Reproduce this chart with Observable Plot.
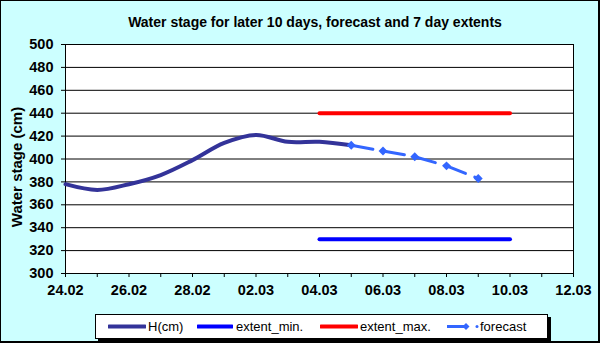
<!DOCTYPE html>
<html>
<head>
<meta charset="utf-8">
<script src="https://cdn.jsdelivr.net/npm/d3@7"></script>
<script src="https://cdn.jsdelivr.net/npm/@observablehq/plot@0.6"></script>
<style>
  html, body { margin: 0; padding: 0; }
  body { font-family: "Liberation Sans", Arial, sans-serif; }
  #chart { position: relative; width: 600px; height: 343px; background: #ccffff; overflow: hidden; }
  #chart svg { position: absolute; left: 0; top: 0; background: transparent; }
  #border { position: absolute; left: 0; top: 0; width: 600px; height: 343px; box-sizing: border-box;
            border: 1px solid #000; border-bottom-width: 2px; border-right-width: 2px; pointer-events: none; }
  #title { position: absolute; left: 30px; width: 570px; top: 13px; text-align: center;
           font-weight: bold; font-size: 14px; line-height: 18px; color: #000; }
  #legend { position: absolute; left: 95px; top: 314px; width: 451px; height: 23px; background: #fff;
            border: 1px solid #000; box-shadow: 3px 3px 0 #000; font-size: 13px; color: #000; }
  .item { position: absolute; top: 0; height: 23px; }
  .item svg { position: absolute; top: 0; left: 0; }
  .item span { position: absolute; top: 4px; white-space: nowrap; line-height: 15px; }
</style>
</head>
<body>
<div id="chart">
  <div id="title">Water stage for later 10 days, forecast and 7 day extents</div>
  <div id="legend"></div>
  <div id="border"></div>
</div>
<script>
// ---- data ----
const hDays = ["2023-02-24","2023-02-25","2023-02-26","2023-02-27","2023-02-28","2023-03-01","2023-03-02","2023-03-03","2023-03-04","2023-03-05"];
const hValues = [378, 373, 378, 386, 399, 414, 421, 415, 415, 412];
const forecastDays = ["2023-03-05","2023-03-06","2023-03-07","2023-03-08","2023-03-09"];
const forecastValues = [412, 407, 402, 394, 383];
const extentDays = ["2023-03-04","2023-03-10"];
const extentMinValues = [330, 330];
const extentMaxValues = [440, 440];
const xTickDates = ["2023-02-24","2023-02-26","2023-02-28","2023-03-02","2023-03-04","2023-03-06","2023-03-08","2023-03-10","2023-03-12"];
const yTicks = [300, 320, 340, 360, 380, 400, 420, 440, 460, 480, 500];
const xDomain = ["2023-02-24", "2023-03-12"];
const seriesNames = ["H(cm)", "extent_min.", "extent_max.", "forecast"];
const seriesColors = ["#333399", "#0000ff", "#ff0000", "#3366ff"];

const parse = d3.utcParse("%Y-%m-%d");
const fmt = d3.utcFormat("%d.%m");
const toRows = (days, vals) => days.map((d, i) => ({date: parse(d), value: vals[i]}));
const hData = toRows(hDays, hValues);
const fcData = toRows(forecastDays, forecastValues);
const minData = toRows(extentDays, extentMinValues);
const maxData = toRows(extentDays, extentMaxValues);
const domain = xDomain.map(parse);
const dailyTicks = d3.utcDay.range(domain[0], d3.utcDay.offset(domain[1], 1));
const labelTicks = xTickDates.map(parse);

const plot = Plot.plot({
  width: 600,
  height: 343,
  marginLeft: 65,
  marginRight: 27,
  marginTop: 44,
  marginBottom: 70,
  style: {fontFamily: "'Liberation Sans', Arial, sans-serif", color: "#000", background: "transparent"},
  x: {type: "utc", domain},
  y: {domain: [300, 500]},
  marks: [
    Plot.frame({fill: "white", stroke: null}),
    Plot.gridY(yTicks, {stroke: "#000", strokeOpacity: 1, strokeWidth: 1}),
    Plot.frame({stroke: "#000", strokeWidth: 1}),
    Plot.axisY({ticks: yTicks, tickSize: 4, tickPadding: 8, fontSize: 14.5, fontWeight: "bold", label: null}),
    Plot.text(["Water stage (cm)"], {frameAnchor: "left", textAnchor: "middle", rotate: -90, dx: -48, dy: 8, fontSize: 15, fontWeight: "bold", fill: "#000"}),
    Plot.axisX({ticks: dailyTicks, tickSize: 4, tickFormat: () => "", label: null}),
    Plot.axisX({ticks: labelTicks, tickSize: 0, tickPadding: 11, tickFormat: fmt, fontSize: 14.5, fontWeight: "bold", label: null}),
    Plot.line(minData, {x: "date", y: "value", stroke: seriesColors[1], strokeWidth: 4}),
    Plot.line(maxData, {x: "date", y: "value", stroke: seriesColors[2], strokeWidth: 4}),
    Plot.line(hData, {x: "date", y: "value", stroke: seriesColors[0], strokeWidth: 4, curve: "catmull-rom"}),
    Plot.line(fcData, {x: "date", y: "value", stroke: seriesColors[3], strokeWidth: 3, strokeDasharray: "22,10"}),
    Plot.dot(fcData, {x: "date", y: "value", symbol: "diamond2", r: 4, fill: seriesColors[3], stroke: null})
  ]
});
const chart = document.getElementById("chart");
chart.insertBefore(plot, chart.firstChild);

// ---- legend ----
const legend = document.getElementById("legend");
const itemLayout = [
  {left: 12, w: 38, textLeft: 40},
  {left: 101, w: 36, textLeft: 39},
  {left: 224, w: 38, textLeft: 40},
  {left: 351, w: 38, textLeft: 33}
];
seriesNames.forEach((name, i) => {
  const it = document.createElement("div");
  it.className = "item";
  it.style.left = itemLayout[i].left + "px";
  const w = itemLayout[i].w;
  let svg;
  if (i === 3) {
    svg = `<svg width="${w}" height="23"><line x1="0" y1="11.5" x2="20" y2="11.5" stroke="${seriesColors[i]}" stroke-width="3"/>
      <path d="M19,8 L22.5,11.5 L19,15 L15.5,11.5Z" fill="${seriesColors[i]}"/>
      <circle cx="30" cy="11.5" r="1.5" fill="${seriesColors[i]}"/></svg>`;
  } else {
    svg = `<svg width="${w}" height="23"><line x1="1" y1="11.5" x2="${w - 1}" y2="11.5" stroke="${seriesColors[i]}" stroke-width="4" stroke-linecap="round"/></svg>`;
  }
  it.innerHTML = svg + `<span style="left:${itemLayout[i].textLeft}px">${name}</span>`;
  legend.appendChild(it);
});
</script>
</body>
</html>
